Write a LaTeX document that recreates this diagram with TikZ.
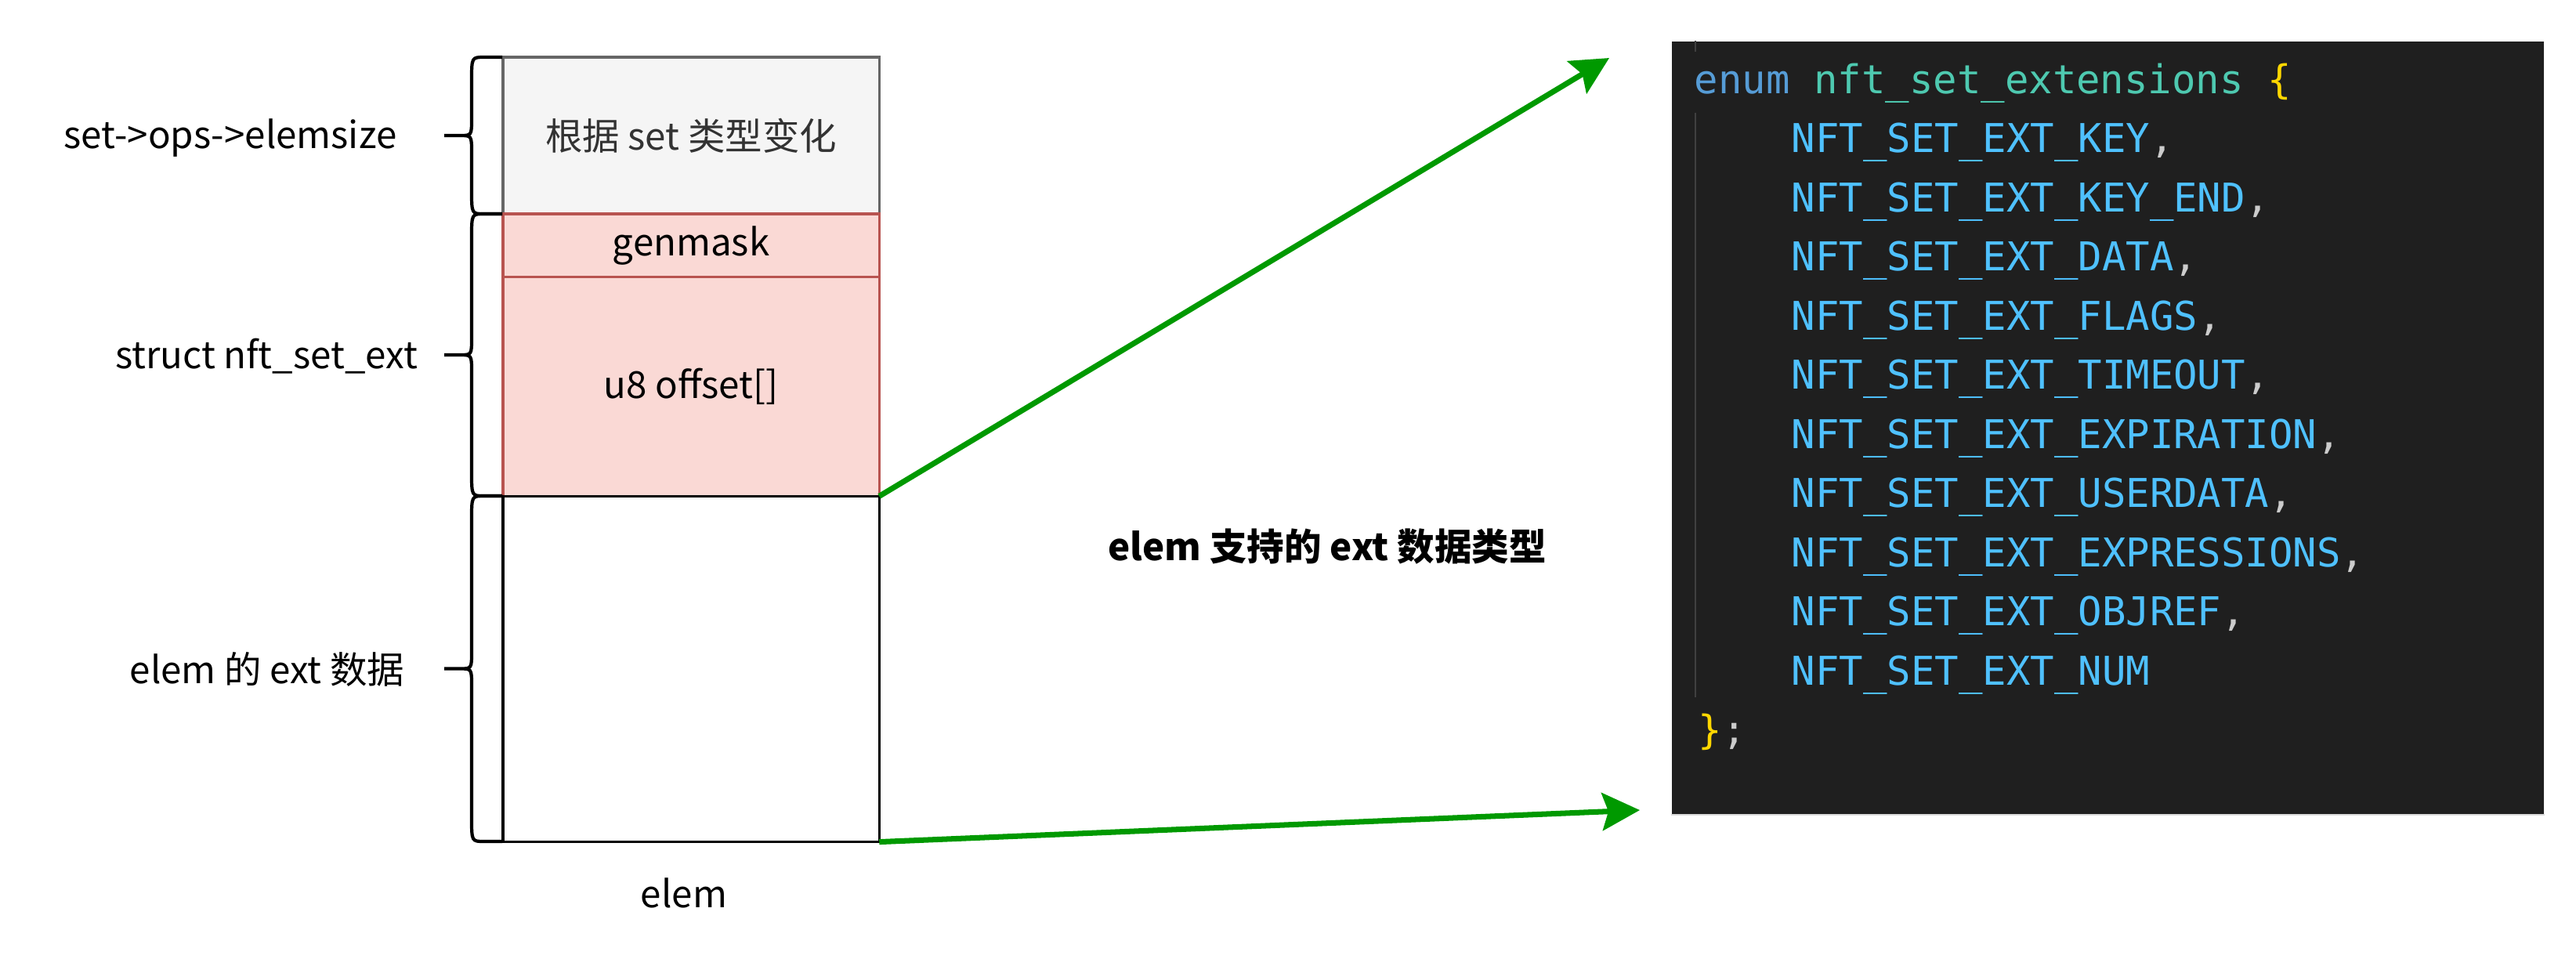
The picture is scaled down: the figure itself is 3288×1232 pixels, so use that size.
\documentclass[tikz,border=0pt]{standalone}
\usepackage{fontspec}
\setmainfont{Noto Sans CJK SC}
\newfontfamily\codefont{DejaVu Sans Mono}
\usetikzlibrary{arrows.meta,positioning}
\usepackage{xcolor}
\definecolor{boxgray}{HTML}{666666}
\definecolor{fillgray}{HTML}{F5F5F5}
\definecolor{txtgray}{HTML}{333333}
\definecolor{redline}{HTML}{B85450}
\definecolor{redfill}{HTML}{FAD9D5}
\definecolor{linkgreen}{HTML}{009900}
\definecolor{codebg}{HTML}{1F1F1F}
\definecolor{codeguide}{HTML}{404040}
\definecolor{codekw}{HTML}{569CD6}
\definecolor{codetype}{HTML}{4EC9B0}
\definecolor{codebrace}{HTML}{FFD700}
\definecolor{codemem}{HTML}{4FC1FF}
\definecolor{codepunct}{HTML}{CCCCCC}
\tikzset{
  >=Stealth,
  lbl/.style={font=\fontsize{13.5}{16}\selectfont,inner sep=0pt},
  boldlbl/.style={font=\fontsize{13.5}{16}\selectfont\bfseries,inner sep=0pt},
  cell/.style={draw,line width=0.95pt,minimum width=4.8cm,inner sep=0pt,outer sep=0pt,font=\fontsize{13.5}{16}\selectfont},
  graycell/.style={cell,draw=boxgray,fill=fillgray,text=txtgray},
  redcell/.style={cell,draw=redline,fill=redfill},
  plaincell/.style={cell,draw=black,fill=white},
  code/.style={font=\codefont\fontsize{14.4}{17}\selectfont,anchor=base west,inner sep=0pt},
  mem/.style={code,text=codemem},
  link/.style={draw=linkgreen,line width=2pt,-{Stealth[length=0.48cm,width=0.48cm,inset=0.08cm]}}
}
\newcommand{\cmma}{{\color{codepunct},}}
\begin{document}
\begin{tikzpicture}[x=0.01cm,y=-0.01cm]
\useasboundingbox (0,0) rectangle (3288,1232);
% memory layout of elem
\node[graycell,anchor=north west,minimum height=2cm](sz)at(642,73){根据 set 类型变化};
\node[redcell,minimum height=0.8cm,below=0pt of sz](gm){genmask};
\node[redcell,minimum height=2.8cm,below=0pt of gm](off){u8 offset[]};
\node[plaincell,minimum height=4.41cm,below=0pt of off](dat){};
\node[lbl](elemlbl)at(873,1140){elem};
% braces
\foreach \t/\b in {73/273,273/633,633/1074}{
  \pgfmathsetmacro\m{(\t+\b)/2}
  \draw[line width=1.2pt](641,\t)--(618,\t)..controls(602,\t)..(602,\t+30)--(602,\m-22)
    ..controls(602,\m)..(587,\m)--(567,\m)(587,\m)..controls(602,\m)..(602,\m+22)
    --(602,\b-30)..controls(602,\b)..(618,\b)--(641,\b);
}
\node[lbl](szlbl)at(294,176){set->ops->elemsize};
\node[lbl](extlbl)at(340,455){struct nft\_set\_ext};
\node[lbl](datlbl)at(341,854){elem 的 ext 数据};
\node[boldlbl](typlbl)at(1694,698){elem 支持的 ext 数据类型};
% code screenshot
\node[fill=codebg,minimum width=11.13cm,minimum height=9.86cm,anchor=north west,inner sep=0pt](panel)at(2133,52){};
\draw[codepunct!70,line width=0.6pt](panel.south west)--(panel.south east);
\draw[codeguide,line width=0.8pt](2164,52)--(2164,66);
\draw[codeguide,line width=0.8pt](2164,144)--(2164,890);
\node[code](l0)at(2162,119){{\color{codekw}enum} {\color{codetype}nft\_set\_extensions} {\color{codebrace}\{}};
\node[mem](l1)at(2286,194.5){NFT\_SET\_EXT\_KEY\cmma};
\node[mem](l2)at(2286,270){NFT\_SET\_EXT\_KEY\_END\cmma};
\node[mem](l3)at(2286,345.5){NFT\_SET\_EXT\_DATA\cmma};
\node[mem](l4)at(2286,421){NFT\_SET\_EXT\_FLAGS\cmma};
\node[mem](l5)at(2286,496.5){NFT\_SET\_EXT\_TIMEOUT\cmma};
\node[mem](l6)at(2286,572){NFT\_SET\_EXT\_EXPIRATION\cmma};
\node[mem](l7)at(2286,647.5){NFT\_SET\_EXT\_USERDATA\cmma};
\node[mem](l8)at(2286,723){NFT\_SET\_EXT\_EXPRESSIONS\cmma};
\node[mem](l9)at(2286,798.5){NFT\_SET\_EXT\_OBJREF\cmma};
\node[mem](l10)at(2286,874){NFT\_SET\_EXT\_NUM};
\node[code](l11)at(2167,949.5){{\color{codebrace}\}}{\color{codepunct};}};
% arrows into the screenshot
\coordinate(hd1)at(2054,74);
\coordinate(hd2)at(2093,1034);
\draw[link](off.south east)--(hd1);
\draw[link](dat.south east)--(hd2);
\end{tikzpicture}
\end{document}
